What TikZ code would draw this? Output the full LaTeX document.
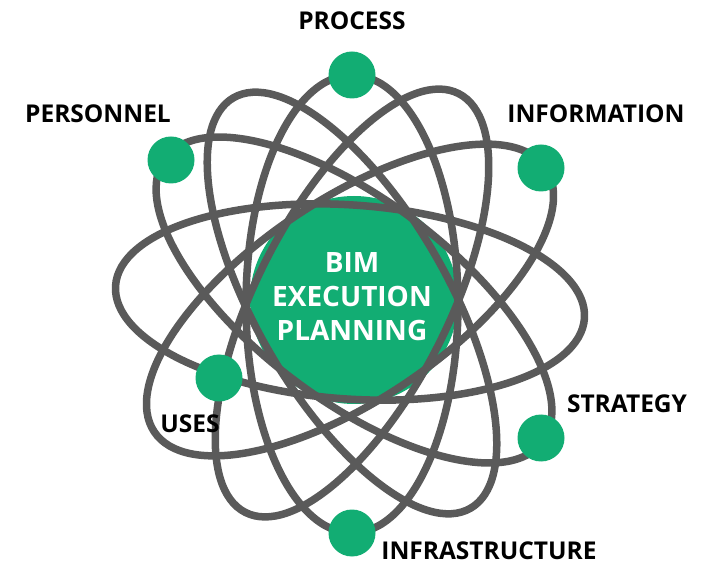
\documentclass[tikz,border=0pt]{standalone}
\usepackage{fontspec}
\setmainfont{Open Sans}
\definecolor{bimgreen}{RGB}{18,173,115}
\definecolor{orbitgray}{RGB}{90,90,90}
\begin{document}
\begin{tikzpicture}[x=1pt,y=-1pt,
  orbit/.style={draw=orbitgray,line width=7.5pt},
  dotnode/.style={circle,fill=bimgreen,minimum size=47pt,inner sep=0pt},
  label/.style={font=\bfseries\fontsize{24.5}{26}\selectfont,text=black,inner sep=0pt},
  hub/.style={circle,fill=bimgreen,minimum size=208pt,inner sep=0pt}]
\useasboundingbox (0,0) rectangle (702,569);
\node[hub] (hub) at (354,300) {};
% orbits
\draw[orbit,rotate around={90:(352,304)}] (352,304) ellipse [x radius=229,y radius=106];
\draw[orbit,rotate around={120:(352,303)}] (352,303) ellipse [x radius=237,y radius=96];
\draw[orbit,rotate around={63:(352,303)}] (352,303) ellipse [x radius=235,y radius=96];
\draw[orbit,rotate around={-37:(354,300)}] (354,300) ellipse [x radius=236,y radius=100];
\draw[orbit,rotate around={34:(350,300)}] (350,300) ellipse [x radius=236,y radius=100];
\draw[orbit,rotate around={-4:(350,302)}] (350,302) ellipse [x radius=235,y radius=97];
% dots
\node[dotnode] (process) at (352,75) {};
\node[dotnode] (personnel) at (171,160) {};
\node[dotnode] (information) at (541,168) {};
\node[dotnode] (strategy) at (541,438) {};
\node[dotnode] (uses) at (219,378) {};
\node[dotnode] (infrastructure) at (352,533) {};
% labels
\node[label] (tprocess) at (352,21) {PROCESS};
\node[label] (tpersonnel) at (98,114) {PERSONNEL};
\node[label] (tinformation) at (596,114) {INFORMATION};
\node[label] (tstrategy) at (627,404) {STRATEGY};
\node[label] (tuses) at (190,424) {USES};
\node[label] (tinfra) at (489,551) {INFRASTRUCTURE};
\node[align=center,text=white,font=\bfseries\fontsize{28}{34}\selectfont] (title) at (352,297) {BIM\\EXECUTION\\PLANNING};
\end{tikzpicture}
\end{document}
